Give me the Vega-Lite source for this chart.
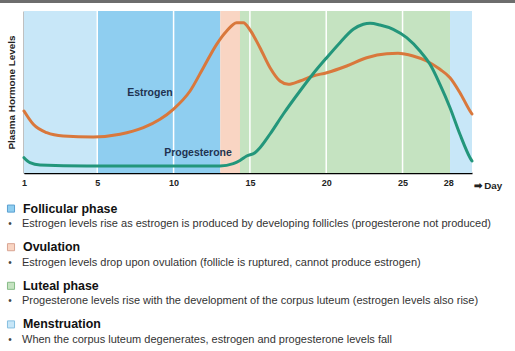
{
  "$schema": "https://vega.github.io/schema/vega-lite/v6.json",
  "padding": 0,
  "spacing": 7,
  "config": {"view": {"stroke": null}, "font": "Liberation Sans"},
  "resolve": {"scale": {"stroke": "independent", "fill": "independent"}},
  "vconcat": [
    {
      "width": 491,
      "height": 3,
      "data": {"values": [{"bar": "top"}]},
      "mark": {"type": "rect", "color": "#6d6d6d"},
      "encoding": {"x": {"value": -24}, "x2": {"value": 491}}
    },
    {
      "width": 448,
      "height": 162,
      "layer": [
        {
          "data": {"values": [
            {"phase": "Menstruation", "start": 0.2, "end": 5},
            {"phase": "Follicular", "start": 5, "end": 13.06},
            {"phase": "Ovulation", "start": 13.06, "end": 14.35},
            {"phase": "Luteal", "start": 14.35, "end": 28.11},
            {"phase": "Menstruation", "start": 28.11, "end": 29.55}
          ]},
          "mark": {"type": "rect"},
          "encoding": {
            "x": {"field": "start", "type": "quantitative", "title": "➡ Day",
              "scale": {"domain": [0.2, 29.55], "nice": false, "zero": false},
              "axis": {"values": [0.2, 5, 10, 15, 20, 25, 28], "labelExpr": "datum.value < 1 ? '1' : datum.label", "ticks": false, "grid": false, "domainColor": "#000", "domainWidth": 1.5, "labelFont": "Liberation Sans", "labelFontWeight": "bold", "labelFontSize": 9, "labelColor": "#222", "labelPadding": 5, "labelFlush": false, "labelOverlap": false, "titleFont": "Liberation Sans", "titleFontWeight": "bold", "titleFontSize": 9.8, "titleColor": "#222", "titleAnchor": "start", "titleAlign": "left", "titleX": 449, "titleY": 15, "titleBaseline": "alphabetic"}},
            "x2": {"field": "end"},
            "fill": {"field": "phase", "type": "nominal", "legend": null,
              "scale": {"domain": ["Follicular", "Ovulation", "Luteal", "Menstruation"], "range": ["#8fcef0", "#f9d5c3", "#c5e3c1", "#c8e7f8"]}}
          }
        },
        {
          "data": {"values": [{"day": 5}, {"day": 10}, {"day": 15}, {"day": 20}, {"day": 25}]},
          "mark": {"type": "rule", "color": "#ffffff", "strokeWidth": 1.5},
          "encoding": {
            "x": {"field": "day", "type": "quantitative", "title": "➡ Day"}
          }
        },
        {
          "data": {"values": [
            {"hormone": "Estrogen", "day": 0.2, "level": 62},
            {"hormone": "Estrogen", "day": 0.81, "level": 48.7},
            {"hormone": "Estrogen", "day": 1.69, "level": 40.3},
            {"hormone": "Estrogen", "day": 2.77, "level": 37},
            {"hormone": "Estrogen", "day": 4.74, "level": 36},
            {"hormone": "Estrogen", "day": 6.49, "level": 38.7},
            {"hormone": "Estrogen", "day": 8.02, "level": 45.3},
            {"hormone": "Estrogen", "day": 9.11, "level": 53.7},
            {"hormone": "Estrogen", "day": 9.98, "level": 63.7},
            {"hormone": "Estrogen", "day": 11.08, "level": 82},
            {"hormone": "Estrogen", "day": 11.95, "level": 105.3},
            {"hormone": "Estrogen", "day": 12.82, "level": 128.7},
            {"hormone": "Estrogen", "day": 13.48, "level": 142},
            {"hormone": "Estrogen", "day": 14.13, "level": 150.3},
            {"hormone": "Estrogen", "day": 14.57, "level": 150.3},
            {"hormone": "Estrogen", "day": 15.01, "level": 143},
            {"hormone": "Estrogen", "day": 15.66, "level": 125.3},
            {"hormone": "Estrogen", "day": 16.32, "level": 105.3},
            {"hormone": "Estrogen", "day": 16.97, "level": 92},
            {"hormone": "Estrogen", "day": 17.52, "level": 88.7},
            {"hormone": "Estrogen", "day": 18.28, "level": 92},
            {"hormone": "Estrogen", "day": 19.13, "level": 97},
            {"hormone": "Estrogen", "day": 20.03, "level": 100.3},
            {"hormone": "Estrogen", "day": 21.34, "level": 107},
            {"hormone": "Estrogen", "day": 22.65, "level": 115.3},
            {"hormone": "Estrogen", "day": 23.96, "level": 119.3},
            {"hormone": "Estrogen", "day": 24.7, "level": 119.7},
            {"hormone": "Estrogen", "day": 25.69, "level": 117},
            {"hormone": "Estrogen", "day": 26.58, "level": 112},
            {"hormone": "Estrogen", "day": 27.45, "level": 103.7},
            {"hormone": "Estrogen", "day": 28.11, "level": 95.3},
            {"hormone": "Estrogen", "day": 28.76, "level": 80.3},
            {"hormone": "Estrogen", "day": 29.42, "level": 62},
            {"hormone": "Estrogen", "day": 29.55, "level": 59},
            {"hormone": "Progesterone", "day": 0.2, "level": 15.3},
            {"hormone": "Progesterone", "day": 0.59, "level": 10.3},
            {"hormone": "Progesterone", "day": 1.25, "level": 8},
            {"hormone": "Progesterone", "day": 4.31, "level": 7},
            {"hormone": "Progesterone", "day": 10.86, "level": 7},
            {"hormone": "Progesterone", "day": 13.04, "level": 7},
            {"hormone": "Progesterone", "day": 13.91, "level": 9.3},
            {"hormone": "Progesterone", "day": 14.35, "level": 12.5},
            {"hormone": "Progesterone", "day": 14.79, "level": 17},
            {"hormone": "Progesterone", "day": 15.33, "level": 20.3},
            {"hormone": "Progesterone", "day": 15.66, "level": 25.3},
            {"hormone": "Progesterone", "day": 16.32, "level": 39},
            {"hormone": "Progesterone", "day": 17.19, "level": 59},
            {"hormone": "Progesterone", "day": 18.28, "level": 82},
            {"hormone": "Progesterone", "day": 19.13, "level": 99},
            {"hormone": "Progesterone", "day": 20.03, "level": 115.3},
            {"hormone": "Progesterone", "day": 20.9, "level": 130.3},
            {"hormone": "Progesterone", "day": 21.77, "level": 143.7},
            {"hormone": "Progesterone", "day": 22.43, "level": 148.7},
            {"hormone": "Progesterone", "day": 22.87, "level": 149.7},
            {"hormone": "Progesterone", "day": 23.52, "level": 148},
            {"hormone": "Progesterone", "day": 24.39, "level": 143.7},
            {"hormone": "Progesterone", "day": 25.27, "level": 135.3},
            {"hormone": "Progesterone", "day": 26.14, "level": 122},
            {"hormone": "Progesterone", "day": 26.8, "level": 108.7},
            {"hormone": "Progesterone", "day": 27.45, "level": 88.7},
            {"hormone": "Progesterone", "day": 28.11, "level": 65.3},
            {"hormone": "Progesterone", "day": 28.76, "level": 38.7},
            {"hormone": "Progesterone", "day": 29.42, "level": 15.3},
            {"hormone": "Progesterone", "day": 29.55, "level": 12}
          ]},
          "mark": {"type": "line", "interpolate": "monotone", "strokeWidth": 3, "strokeCap": "round"},
          "encoding": {
            "x": {"field": "day", "type": "quantitative", "title": "➡ Day"},
            "y": {"field": "level", "type": "quantitative", "title": "Plasma Hormone Levels",
              "scale": {"domain": [0, 162], "nice": false, "zero": false},
              "axis": {"ticks": false, "labels": false, "grid": false, "domainColor": "#000", "domainWidth": 1.5, "titleFont": "Liberation Sans", "titleFontWeight": "bold", "titleFontSize": 9.9, "titleColor": "#222", "titlePadding": 8}},
            "stroke": {"field": "hormone", "type": "nominal", "legend": null,
              "scale": {"domain": ["Estrogen", "Progesterone"], "range": ["#d9783c", "#23967b"]}}
          }
        },
        {
          "data": {"values": [
            {"label": "Estrogen", "day": 8.45, "level": 80},
            {"label": "Progesterone", "day": 11.6, "level": 20}
          ]},
          "mark": {"type": "text", "font": "Liberation Sans", "fontWeight": "bold", "fontSize": 10.5, "color": "#1f3350", "align": "center", "baseline": "middle"},
          "encoding": {
            "x": {"field": "day", "type": "quantitative", "title": "➡ Day"},
            "y": {"field": "level", "type": "quantitative", "title": "Plasma Hormone Levels"},
            "text": {"field": "label"}
          }
        }
      ]
    },
    {
      "width": 480,
      "height": 139,
      "data": {"values": [
        {"section": 1, "phase": "Follicular", "header": "Follicular phase", "body": "Estrogen levels rise as estrogen is produced by developing follicles (progesterone not produced)"},
        {"section": 2, "phase": "Ovulation", "header": "Ovulation", "body": "Estrogen levels drop upon ovulation (follicle is ruptured, cannot produce estrogen)"},
        {"section": 3, "phase": "Luteal", "header": "Luteal phase", "body": "Progesterone levels rise with the development of the corpus luteum (estrogen levels also rise)"},
        {"section": 4, "phase": "Menstruation", "header": "Menstruation", "body": "When the corpus luteum degenerates, estrogen and progesterone levels fall"}
      ]},
      "encoding": {
        "y": {"field": "section", "type": "ordinal", "scale": {"type": "point", "padding": 0.3}, "axis": null}
      },
      "layer": [
        {
          "mark": {"type": "square", "size": 50, "filled": true, "strokeWidth": 1, "opacity": 1},
          "encoding": {
            "x": {"value": -13},
            "fill": {"field": "phase", "type": "nominal", "legend": null,
              "scale": {"domain": ["Follicular", "Ovulation", "Luteal", "Menstruation"], "range": ["#8fcef0", "#f9d5c3", "#c5e3c1", "#c8e7f8"]}},
            "stroke": {"field": "phase", "type": "nominal", "legend": null,
              "scale": {"domain": ["Follicular", "Ovulation", "Luteal", "Menstruation"], "range": ["#5a9fd0", "#d9a593", "#86bb86", "#86bfe0"]}}
          }
        },
        {
          "mark": {"type": "text", "align": "left", "baseline": "middle", "font": "Liberation Sans", "fontWeight": "bold", "fontSize": 12.4, "color": "#111"},
          "encoding": {"x": {"value": -1}, "text": {"field": "header"}}
        },
        {
          "mark": {"type": "text", "align": "center", "baseline": "middle", "dy": 15.5, "fontSize": 10, "color": "#444", "text": "•"},
          "encoding": {"x": {"value": -14}}
        },
        {
          "mark": {"type": "text", "align": "left", "baseline": "middle", "dy": 15.5, "font": "Liberation Sans", "fontSize": 11, "color": "#333"},
          "encoding": {"x": {"value": -2}, "text": {"field": "body"}}
        }
      ]
    }
  ]
}
